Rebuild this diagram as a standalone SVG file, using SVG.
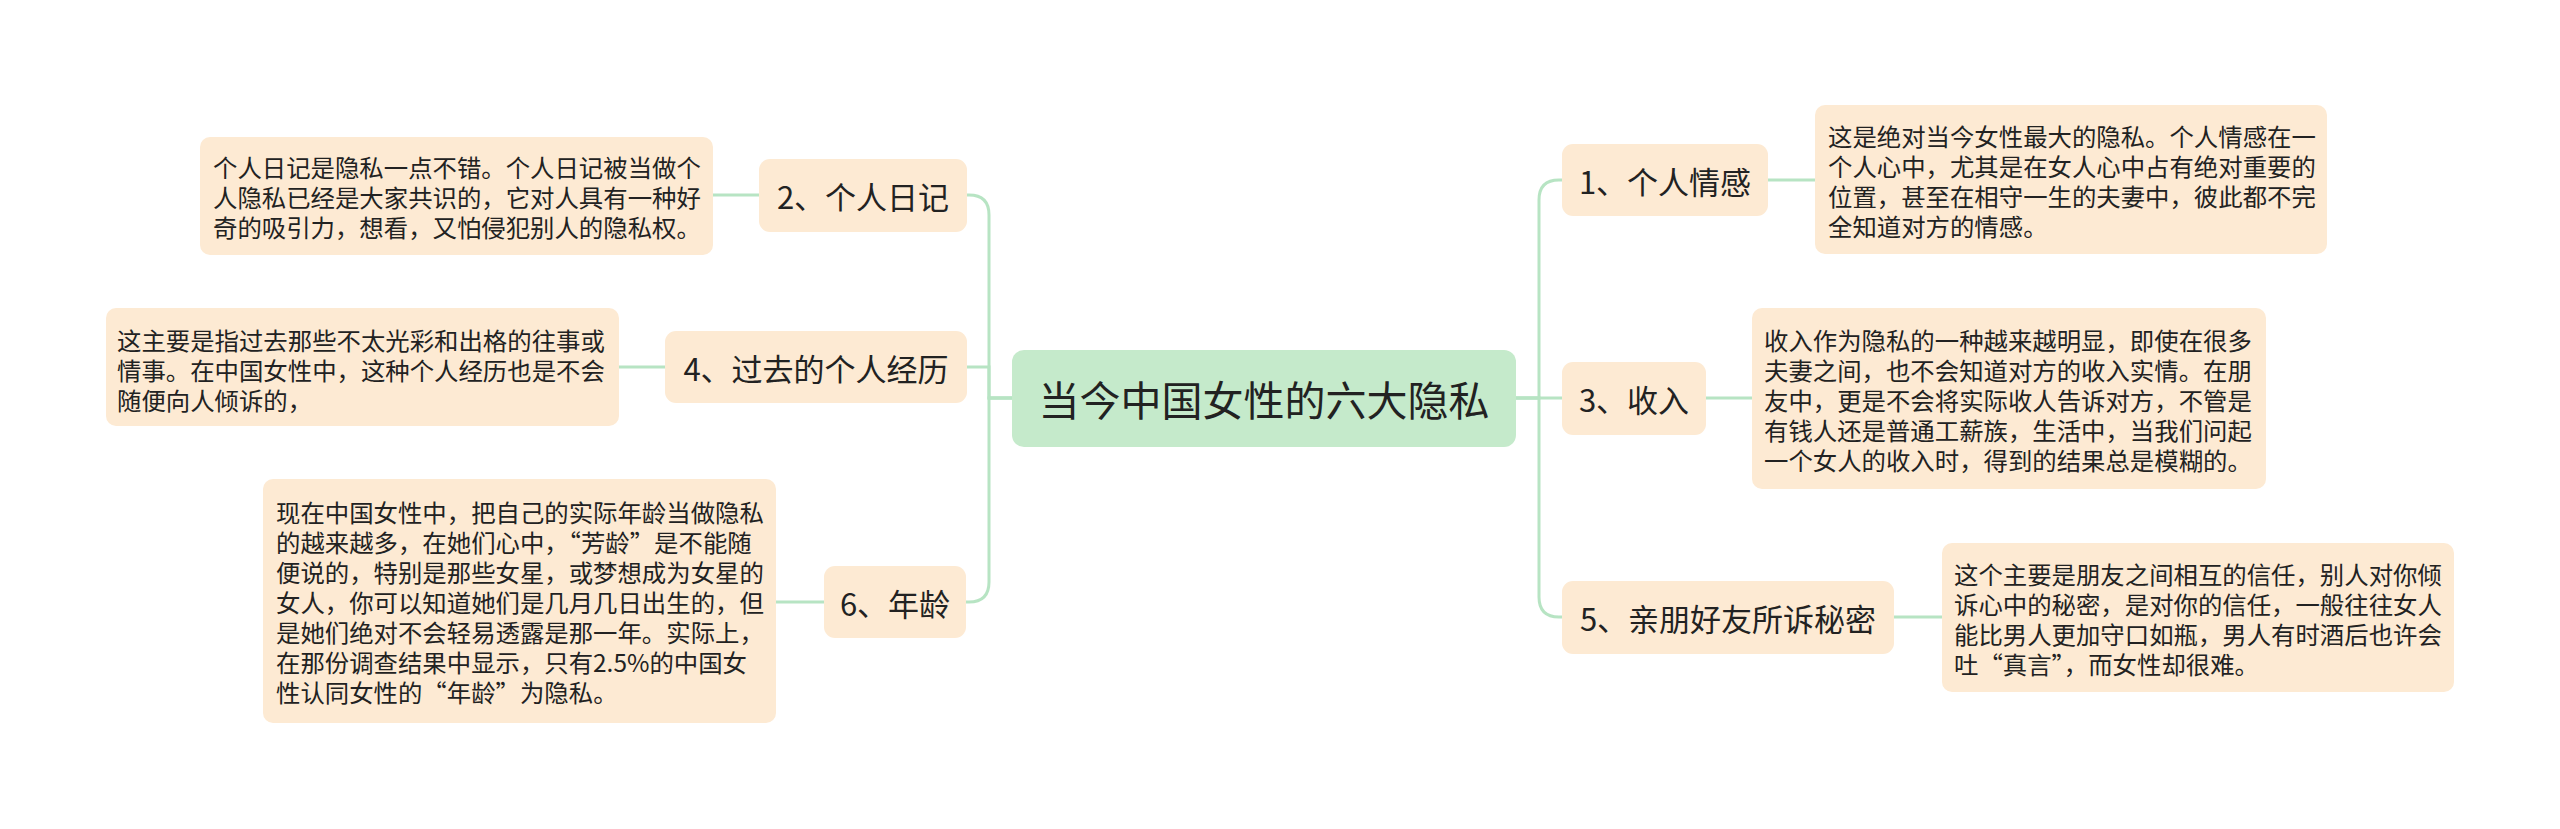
<svg xmlns="http://www.w3.org/2000/svg" width="2560" height="829" viewBox="0 0 2560 829" xml:lang="zh-CN">
<style>
.bg{fill:#ffffff}
.node{fill:#fdead3}
.desc{fill:#fdead3}
.root{fill:#c5eacb}
.lnk{fill:none;stroke:#b7e4c3;stroke-width:3}
.t{font-family:"Noto Sans CJK SC","Noto Sans",sans-serif;fill:#222222;dominant-baseline:central}
.tn{font-size:31px;text-anchor:middle}
.tr{font-size:41px;text-anchor:middle}
.td{font-size:24.4px}
.fw{font-feature-settings:"fwid"}
</style>
<rect class="bg" x="0" y="0" width="2560" height="829"/>
<g id="connectors">
<path class="lnk" d="M1012,398 H989 V215 Q989,195 969,195 H966"/>
<path class="lnk" d="M1012,398 H989 V367 H967"/>
<path class="lnk" d="M1012,398 H989 V582 Q989,602 969,602 H966"/>
<path class="lnk" d="M1516,398 H1539 V200 Q1539,180 1559,180 H1562"/>
<path class="lnk" d="M1516,398 H1562"/>
<path class="lnk" d="M1516,398 H1539 V597 Q1539,617 1559,617 H1562"/>
<path class="lnk" d="M713,195 H759"/>
<path class="lnk" d="M619,367 H665"/>
<path class="lnk" d="M776,602 H824"/>
<path class="lnk" d="M1768,180 H1815"/>
<path class="lnk" d="M1706,398 H1752"/>
<path class="lnk" d="M1894,617 H1942"/>
</g>
<g id="root">
<rect class="root" x="1012" y="350" width="504" height="97" rx="12"/>
<text class="t tr" x="1264" y="398">当今中国女性的六大隐私</text>
</g>
<g id="n2">
<rect class="node" x="759" y="159" width="208" height="73" rx="11"/>
<text class="t tn" x="863" y="195.5">2、个人日记</text>
</g>
<g id="d2">
<rect class="desc" x="200" y="137" width="513" height="118" rx="10"/>
<text class="t td" x="213"><tspan x="213" y="166">个人日记是隐私一点不错。个人日记被当做个</tspan><tspan x="213" y="196">人隐私已经是大家共识的，它对人具有一种好</tspan><tspan x="213" y="226">奇的吸引力，想看，又怕侵犯别人的隐私权。</tspan></text>
</g>
<g id="n4">
<rect class="node" x="665" y="331" width="302" height="72" rx="11"/>
<text class="t tn" x="816" y="367">4、过去的个人经历</text>
</g>
<g id="d4">
<rect class="desc" x="106" y="308" width="513" height="118" rx="10"/>
<text class="t td" x="117"><tspan x="117" y="339">这主要是指过去那些不太光彩和出格的往事或</tspan><tspan x="117" y="369">情事。在中国女性中，这种个人经历也是不会</tspan><tspan x="117" y="399">随便向人倾诉的，</tspan></text>
</g>
<g id="n6">
<rect class="node" x="824" y="566" width="142" height="72" rx="11"/>
<text class="t tn" x="895" y="602">6、年龄</text>
</g>
<g id="d6">
<rect class="desc" x="263" y="479" width="513" height="244" rx="10"/>
<text class="t td" x="276"><tspan x="276" y="511">现在中国女性中，把自己的实际年龄当做隐私</tspan><tspan x="276" y="541">的越来越多，在她们心中，<tspan class="fw">“</tspan>芳龄<tspan class="fw">”</tspan>是不能随</tspan><tspan x="276" y="571">便说的，特别是那些女星，或梦想成为女星的</tspan><tspan x="276" y="601">女人，你可以知道她们是几月几日出生的，但</tspan><tspan x="276" y="631">是她们绝对不会轻易透露是那一年。实际上，</tspan><tspan x="276" y="661">在那份调查结果中显示，只有2.5%的中国女</tspan><tspan x="276" y="691">性认同女性的<tspan class="fw">“</tspan>年龄<tspan class="fw">”</tspan>为隐私。</tspan></text>
</g>
<g id="n1">
<rect class="node" x="1562" y="144" width="206" height="72" rx="11"/>
<text class="t tn" x="1665" y="180">1、个人情感</text>
</g>
<g id="d1">
<rect class="desc" x="1815" y="105" width="512" height="149" rx="10"/>
<text class="t td" x="1828"><tspan x="1828" y="134.5">这是绝对当今女性最大的隐私。个人情感在一</tspan><tspan x="1828" y="164.5">个人心中，尤其是在女人心中占有绝对重要的</tspan><tspan x="1828" y="194.5">位置，甚至在相守一生的夫妻中，彼此都不完</tspan><tspan x="1828" y="224.5">全知道对方的情感。</tspan></text>
</g>
<g id="n3">
<rect class="node" x="1562" y="362" width="144" height="73" rx="11"/>
<text class="t tn" x="1634" y="398.5">3、收入</text>
</g>
<g id="d3">
<rect class="desc" x="1752" y="308" width="514" height="181" rx="10"/>
<text class="t td" x="1764"><tspan x="1764" y="339">收入作为隐私的一种越来越明显，即使在很多</tspan><tspan x="1764" y="369">夫妻之间，也不会知道对方的收入实情。在朋</tspan><tspan x="1764" y="399">友中，更是不会将实际收人告诉对方，不管是</tspan><tspan x="1764" y="429">有钱人还是普通工薪族，生活中，当我们问起</tspan><tspan x="1764" y="459">一个女人的收入时，得到的结果总是模糊的。</tspan></text>
</g>
<g id="n5">
<rect class="node" x="1562" y="581" width="332" height="73" rx="11"/>
<text class="t tn" x="1728" y="617.5">5、亲朋好友所诉秘密</text>
</g>
<g id="d5">
<rect class="desc" x="1942" y="543" width="512" height="149" rx="10"/>
<text class="t td" x="1954"><tspan x="1954" y="573">这个主要是朋友之间相互的信任，别人对你倾</tspan><tspan x="1954" y="603">诉心中的秘密，是对你的信任，一般往往女人</tspan><tspan x="1954" y="633">能比男人更加守口如瓶，男人有时酒后也许会</tspan><tspan x="1954" y="663">吐<tspan class="fw">“</tspan>真言<tspan class="fw">”</tspan>，而女性却很难。</tspan></text>
</g>
</svg>
